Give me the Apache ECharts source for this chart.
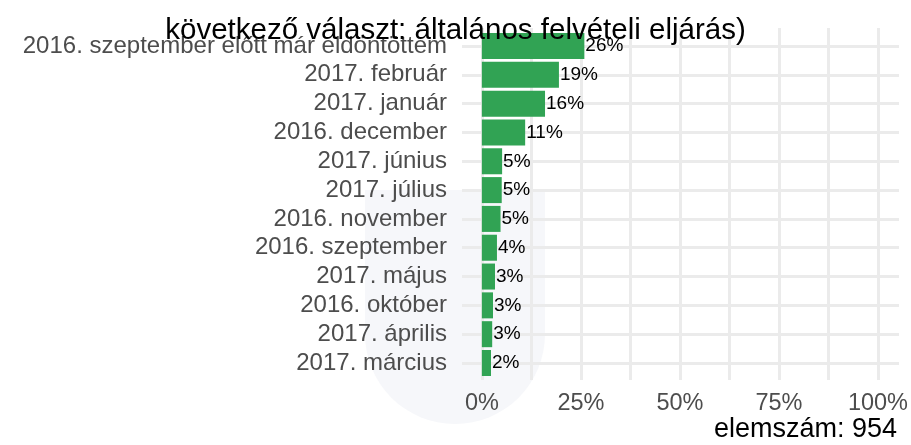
<!DOCTYPE html>
<html>
<head>
    <meta charset="utf-8">
    <title>felvételi</title>
    <script src="https://cdn.jsdelivr.net/npm/echarts@6/dist/echarts.min.js"></script>
    <style type="text/css">
        body{
            margin: 0;
            background: #fff;
        }
        #main{
            width: 911px;
            height: 445px;
        }
    </style>
</head>
<body>
<div id="main"></div>
<script>
    // sorrend: felülről lefelé
    var categories = ["2016. szeptember előtt már eldöntöttem", "2017. február", "2017. január",
        "2016. december", "2017. június", "2017. július", "2016. november", "2016. szeptember",
        "2017. május", "2016. október", "2017. április", "2017. március"];
    var values = [25.8, 19.4, 15.9, 10.9, 5.1, 5.0, 4.7, 3.8, 3.3, 2.8, 2.6, 2.3];
    var xTicks = [0, 25, 50, 75, 100];
    var titleText = "következő választ: általános felvételi eljárás)";
    var captionText = "elemszám: 954";

    var font = "Liberation Sans";
    var gridColor = "#EBEBEB";

    var myChart = echarts.init(document.getElementById('main'));
    var option = {
        backgroundColor: '#fff',
        textStyle: {fontFamily: font},
        title: [{
            text: titleText,
            left: 'center',
            top: 16,
            padding: 0,
            textStyle: {fontFamily: font, fontSize: 29.5, fontWeight: 'normal', color: '#000'},
            z: 10
        }, {
            text: captionText,
            right: 14,
            top: 416,
            padding: 0,
            textStyle: {fontFamily: font, fontSize: 27, fontWeight: 'normal', color: '#000'}
        }],
        graphic: [{
            // halvány vízjel
            type: 'rect',
            left: 365,
            top: 190,
            shape: {width: 180, height: 234, r: [0, 0, 90, 90]},
            style: {fill: '#F6F7FA'},
            z: -10
        }],
        grid: [
            {left: 482, right: 32, top: 28, bottom: 65},
            {left: 462, right: 12, top: 46, bottom: 82}
        ],
        xAxis: [{
            gridIndex: 0,
            type: 'value',
            min: xTicks[0],
            max: xTicks[xTicks.length - 1],
            interval: 25,
            axisLine: {show: false},
            axisTick: {show: false},
            minorTick: {show: false, splitNumber: 2},
            minorSplitLine: {show: true, lineStyle: {color: gridColor, width: 3}},
            splitLine: {show: true, lineStyle: {color: gridColor, width: 3}},
            axisLabel: {
                margin: 12,
                color: '#4D4D4D',
                fontSize: 23.5,
                fontFamily: font,
                formatter: function (v) { return v + '%'; }
            }
        }, {
            gridIndex: 1,
            type: 'value',
            min: -5,
            max: 105,
            show: false
        }],
        yAxis: [{
            gridIndex: 0,
            type: 'value',
            show: false
        }, {
            gridIndex: 1,
            type: 'category',
            inverse: true,
            boundaryGap: false,
            data: categories,
            axisLine: {show: false},
            axisTick: {show: false},
            splitLine: {show: true, interval: 0, lineStyle: {color: gridColor, width: 3}},
            axisLabel: {
                interval: 0,
                margin: 15,
                color: '#4D4D4D',
                fontSize: 24,
                fontFamily: font
            }
        }],
        series: [{
            type: 'bar',
            xAxisIndex: 1,
            yAxisIndex: 1,
            data: values,
            barWidth: 26,
            clip: false,
            itemStyle: {color: '#31A354'},
            label: {
                show: true,
                position: 'right',
                distance: 1,
                color: '#000',
                fontSize: 19,
                fontFamily: font,
                formatter: function (p) { return Math.round(p.value) + '%'; }
            }
        }]
    };
    myChart.setOption(option);
</script>
</body>
</html>
